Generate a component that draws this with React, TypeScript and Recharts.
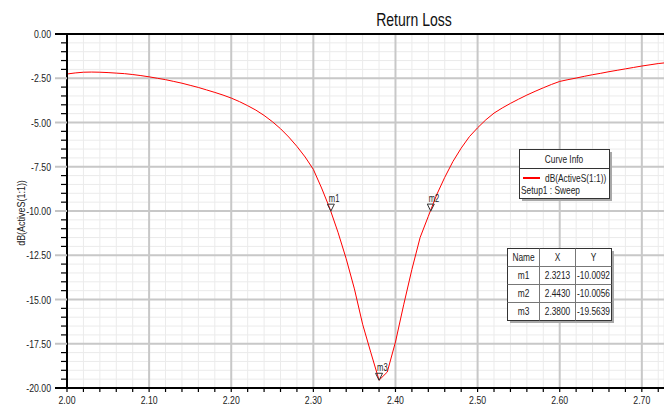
import React from "react";
import {
  ComposedChart,
  Line,
  Scatter,
  XAxis,
  YAxis,
  CartesianGrid,
  ReferenceLine,
} from "recharts";

const FONT = "'Liberation Sans', Arial, sans-serif";
const SQUEEZE = 0.76;

// sweep frequency (GHz) and dB(ActiveS(1:1))
const freq = [
  2.0, 2.01, 2.02, 2.03, 2.04, 2.05, 2.06, 2.07, 2.08, 2.09,
  2.1, 2.11, 2.12, 2.13, 2.14, 2.15, 2.16, 2.17, 2.18, 2.19,
  2.2, 2.21, 2.22, 2.23, 2.24, 2.25, 2.26, 2.27, 2.28, 2.29,
  2.3, 2.31, 2.32, 2.33, 2.34, 2.35, 2.36, 2.37, 2.38, 2.39,
  2.4, 2.41, 2.42, 2.43, 2.44, 2.45, 2.46, 2.47, 2.48, 2.49,
  2.5, 2.51, 2.52, 2.53, 2.54, 2.55, 2.56, 2.57, 2.58, 2.59,
  2.6, 2.61, 2.62, 2.63, 2.64, 2.65, 2.66, 2.67, 2.68, 2.69,
  2.7, 2.71, 2.72, 2.73,
];
const returnLoss = [
  -2.26, -2.2, -2.16, -2.15, -2.16, -2.18, -2.21, -2.24, -2.29, -2.35,
  -2.42, -2.5, -2.58, -2.68, -2.78, -2.9, -3.02, -3.16, -3.3, -3.45,
  -3.62, -3.82, -4.05, -4.3, -4.6, -4.95, -5.35, -5.82, -6.35, -6.95,
  -7.65, -8.7, -9.85, -11.2, -12.7, -14.4, -16.4, -18.0, -19.56, -19.1,
  -17.4, -15.3, -13.3, -11.5, -10.3, -9.1, -8.1, -7.2, -6.45, -5.8,
  -5.3, -4.85, -4.47, -4.18, -3.92, -3.68, -3.45, -3.24, -3.04, -2.85,
  -2.68, -2.58, -2.49, -2.39, -2.3, -2.22, -2.13, -2.05, -1.97, -1.89,
  -1.81, -1.74, -1.67, -1.62,
];

const markerNames = ["m1", "m2", "m3"];
const markerX = [2.3213, 2.443, 2.38];
const markerY = [-10.0092, -10.0056, -19.5639];

const xMajorTicks = [2.0, 2.1, 2.2, 2.3, 2.4, 2.5, 2.6, 2.7];
const yMajorTicks = [0, -2.5, -5, -7.5, -10, -12.5, -15, -17.5, -20];
const xMinorTicks = Array.from({ length: 37 }, (_, i) => +(2 + i * 0.02).toFixed(2));
const yMinorTicks = Array.from({ length: 41 }, (_, i) => -i * 0.5);

const rows = freq.map((f, i) => ({ f, db: returnLoss[i] }));
const markerRows = markerNames.map((name, i) => ({ name, f: markerX[i], db: markerY[i] }));

const isMajor = (v: number, step: number) => Math.abs(v / step - Math.round(v / step)) < 1e-6;

// the reference uses a condensed face, so squeeze the text horizontally
const Txt = ({ x, y, size, anchor = "start", rotate = 0, sx = SQUEEZE, fill = "#222", children }: any) => (
  <text
    transform={`translate(${x},${y}) rotate(${rotate}) scale(${sx},1)`}
    textAnchor={anchor}
    fontSize={size}
    fill={fill}
    fontFamily={FONT}
  >
    {children}
  </text>
);

const XTick = (props: any) => {
  const { x, y, payload } = props;
  const v = payload.value;
  return (
    <g>
      <line x1={x} x2={x} y1={y} y2={y + 4} stroke="#000" strokeWidth={1.2} />
      {isMajor(v - 2, 0.1) && (
        <Txt x={x} y={y + 16} size={11.5} anchor="middle">
          {v.toFixed(2)}
        </Txt>
      )}
    </g>
  );
};

const YTick = (props: any) => {
  const { x, y, payload } = props;
  const v = payload.value;
  const major = isMajor(v, 2.5);
  const edge = v === 0 || v === -20;
  return (
    <g>
      {major ? (
        <line x1={x - 12} x2={x} y1={y} y2={y} stroke={edge ? "#000" : "#c4c4c4"} strokeWidth={2} />
      ) : (
        <line x1={x - 6} x2={x} y1={y} y2={y} stroke="#000" strokeWidth={1.2} />
      )}
      {major && (
        <Txt x={x - 16} y={y + 4} size={11.5} anchor="end">
          {v.toFixed(2)}
        </Txt>
      )}
    </g>
  );
};

const MarkerShape = (props: any) => {
  const { cx, cy, payload } = props;
  return (
    <g>
      <polygon
        points={`${cx},${cy} ${cx - 3.5},${cy - 7} ${cx + 3.5},${cy - 7}`}
        fill="none"
        stroke="#333"
        strokeWidth={1}
      />
      <Txt x={cx - 2} y={cy - 9} size={10}>
        {payload.name}
      </Txt>
    </g>
  );
};

const Overlay = () => {
  const colX = [507, 539, 575, 611];
  const rowY = [248, 266, 284, 302, 320];
  const cells = [["Name", "X", "Y"]].concat(
    markerNames.map((n, i) => [n, markerX[i].toFixed(4), markerY[i].toFixed(4)])
  );
  return (
    <svg
      width={664}
      height={407}
      style={{ position: "absolute", left: 0, top: 0, pointerEvents: "none" }}
    >
      <Txt x={414} y={26} size={18} anchor="middle" fill="#111" sx={0.78}>
        Return Loss
      </Txt>
      <Txt x={25} y={213} size={11.5} anchor="middle" rotate={-90} sx={0.78}>
        dB(ActiveS(1:1))
      </Txt>

      {/* curve info box */}
      <rect x={522} y={152} width={90} height={49} fill="#a8a8a8" />
      <rect x={519.5} y={149.5} width={90} height={49} fill="#fff" stroke="#333" />
      <line x1={519.5} x2={609.5} y1={168.5} y2={168.5} stroke="#333" />
      <Txt x={564} y={163} size={11} anchor="middle">
        Curve Info
      </Txt>
      <line x1={523} x2={540} y1={178} y2={178} stroke="#ff0000" strokeWidth={2} />
      <Txt x={545} y={181.5} size={11}>
        dB(ActiveS(1:1))
      </Txt>
      <Txt x={521} y={194} size={11}>
        Setup1 : Sweep
      </Txt>

      {/* marker table */}
      <rect x={510} y={251} width={104} height={72} fill="#a8a8a8" />
      <rect x={507.5} y={248.5} width={104} height={72} fill="#fff" stroke="#333" />
      {rowY.slice(1, 4).map((y) => (
        <line key={y} x1={507.5} x2={611.5} y1={y + 0.5} y2={y + 0.5} stroke="#777" />
      ))}
      {colX.slice(1, 3).map((x) => (
        <line key={x} x1={x + 0.5} x2={x + 0.5} y1={248.5} y2={320.5} stroke="#777" />
      ))}
      {cells.map((r, ri) =>
        r.map((c, ci) => (
          <Txt
            key={`${ri}-${ci}`}
            x={(colX[ci] + colX[ci + 1]) / 2 + 0.5}
            y={rowY[ri] + 13}
            size={11}
            anchor="middle"
          >
            {c}
          </Txt>
        ))
      )}
    </svg>
  );
};

export default function App() {
  return (
    <div style={{ position: "absolute", left: 0, top: 0, width: 664, height: 407, background: "#fff" }}>
      <ComposedChart
        width={664}
        height={407}
        data={rows}
        margin={{ top: 34, right: 0, bottom: 0, left: 0 }}
      >
        <CartesianGrid stroke="#ebebeb" strokeWidth={1} />
        {xMajorTicks.slice(1).map((v) => (
          <ReferenceLine key={`x${v}`} x={v} stroke="#c8c8c8" strokeWidth={2} />
        ))}
        {yMajorTicks.slice(1, -1).map((v) => (
          <ReferenceLine key={`y${v}`} y={v} stroke="#c8c8c8" strokeWidth={2} />
        ))}
        <ReferenceLine y={0} stroke="#000" strokeWidth={2} />
        <XAxis
          dataKey="f"
          type="number"
          domain={[2.0, 2.727]}
          ticks={xMinorTicks}
          interval={0}
          allowDataOverflow
          height={19}
          tickSize={0}
          tickMargin={0}
          tickLine={false}
          axisLine={{ stroke: "#000", strokeWidth: 2 }}
          tick={<XTick />}
        />
        <YAxis
          type="number"
          domain={[-20, 0]}
          ticks={yMinorTicks}
          interval={0}
          width={67}
          tickSize={0}
          tickMargin={0}
          tickLine={false}
          axisLine={{ stroke: "#000", strokeWidth: 2 }}
          tick={<YTick />}
        />
        <Line
          dataKey="db"
          stroke="#ff0000"
          strokeWidth={1}
          dot={false}
          activeDot={false}
          isAnimationActive={false}
        />
        <Scatter
          data={markerRows}
          dataKey="db"
          shape={<MarkerShape />}
          isAnimationActive={false}
        />
      </ComposedChart>
      <Overlay />
    </div>
  );
}
